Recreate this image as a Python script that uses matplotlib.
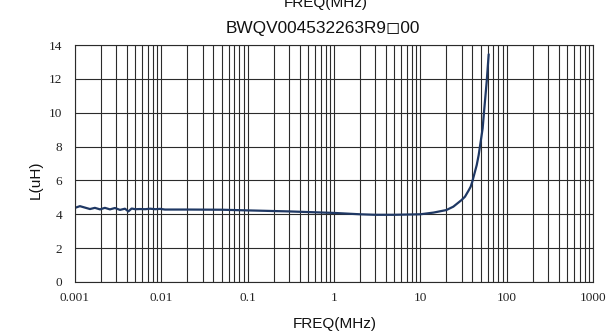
import matplotlib
matplotlib.use("Agg")
import matplotlib.pyplot as plt
from matplotlib.ticker import FixedLocator, LogLocator, NullFormatter

# Data
freq_mhz = [0.001, 0.00114, 0.00149, 0.0017, 0.00195, 0.00222, 0.00254, 0.0029,
            0.00332, 0.00379, 0.00415, 0.00453, 0.005, 0.00566, 0.0065, 0.0074,
            0.0085, 0.0097, 0.011, 0.02, 0.05, 0.1, 0.3, 1, 2, 3, 5, 10, 14.2,
            20, 24.1, 30, 32.9, 36, 38.3, 40, 45, 47.4, 50, 52.7, 54.7, 58.7, 61.9]
inductance_uh = [4.38, 4.48, 4.31, 4.38, 4.29, 4.38, 4.29, 4.37,
                 4.26, 4.33, 4.17, 4.34, 4.30, 4.31, 4.30, 4.33,
                 4.30, 4.32, 4.28, 4.28, 4.27, 4.23, 4.17, 4.08, 4.0, 3.97, 3.97, 4.0, 4.10,
                 4.25, 4.45, 4.84, 5.04, 5.38, 5.63, 5.93, 6.91, 7.5, 8.29, 9.08, 10.06, 11.83, 13.45]

x_ticks = [0.001, 0.01, 0.1, 1, 10, 100, 1000]
x_tick_labels = ["0.001", "0.01", "0.1", "1", "10", "100", "1000"]
y_ticks = [0, 2, 4, 6, 8, 10, 12, 14]

title_text = "BWQV004532263R9\u25fb00"
top_text = "FREQ(MHz)"
x_label = "FREQ(MHz)"
y_label = "L(uH)"

W, H = 611, 336
fig = plt.figure(figsize=(W / 100, H / 100), dpi=100)
ax = fig.add_axes([75 / W, 1 - 282 / H, (593 - 75) / W, (282 - 45) / H])

grid_col = "#2b2b2b"
ax.set_xscale("log")
ax.set_xlim(0.001, 1000)
ax.set_ylim(0, 14)
ax.xaxis.set_major_locator(FixedLocator(x_ticks))
ax.set_xticklabels(x_tick_labels)
ax.xaxis.set_minor_locator(LogLocator(base=10, subs=range(2, 10), numticks=20))
ax.xaxis.set_minor_formatter(NullFormatter())
ax.set_yticks(y_ticks)
ax.set_yticklabels([str(v) for v in y_ticks])

ax.grid(True, which="major", axis="both", color=grid_col, linewidth=0.8)
ax.grid(True, which="minor", axis="x", color=grid_col, linewidth=0.8)
ax.set_axisbelow(True)
for s in ax.spines.values():
    s.set_color(grid_col)
    s.set_linewidth(0.8)

ax.tick_params(which="both", length=0)
ax.tick_params(axis="x", pad=7)
ax.tick_params(axis="y", pad=9)
for lab in ax.get_xticklabels() + ax.get_yticklabels():
    lab.set_fontfamily(["Liberation Serif", "DejaVu Serif"])
    lab.set_fontsize(9.5)
    lab.set_color("#222222")

ax.plot(freq_mhz, inductance_uh, color="#1f3864", linewidth=1.6,
        solid_joinstyle="round", solid_capstyle="round")

sans = ["Liberation Sans", "DejaVu Sans"]
fig.text(326 / W, 1 - 7 / H, top_text, ha="center", va="baseline",
         fontsize=11, family=sans, color="#111111")
fig.text(323 / W, 1 - 33 / H, title_text, ha="center", va="baseline",
         fontsize=12.4, family=sans, color="#111111")
fig.text(334.5 / W, 1 - 324 / H, x_label, ha="center", va="center",
         fontsize=11, family=sans, color="#111111")
fig.text(36 / W, 1 - 180 / H, y_label, ha="center", va="center", rotation=90,
         fontsize=11, family=sans, color="#111111")

fig.savefig("out.png", dpi=100, facecolor="white")
